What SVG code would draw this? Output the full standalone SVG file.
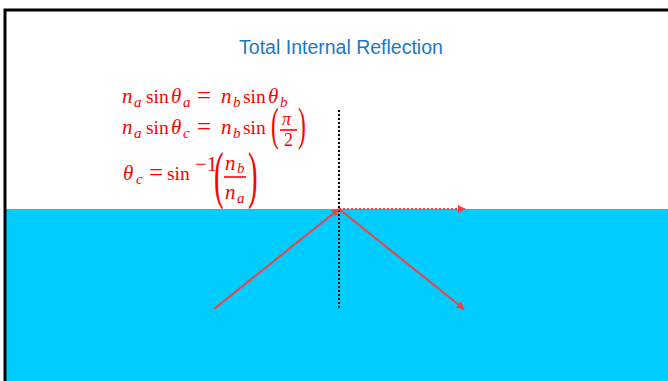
<svg xmlns="http://www.w3.org/2000/svg" width="668" height="381" viewBox="0 0 668 381">
<defs>
<style>
.eq{font-family:"Liberation Serif","DejaVu Serif",serif;fill:#ff0000;font-size:21px}
.it{font-style:italic}
.fn{font-size:19.5px}
.sub{font-size:15px;font-style:italic}
.op{font-size:25px}
.fr{font-size:18px}
.par{font-family:"Liberation Serif","DejaVu Serif",serif;fill:#ff0000}
.ray{stroke:#f44040;stroke-width:2;fill:none}
</style>
<marker id="ah" viewBox="0 0 10 10" refX="9" refY="5" markerWidth="8" markerHeight="8" markerUnits="userSpaceOnUse" orient="auto">
<path d="M0,0 L10,5 L0,10 z" fill="#f44040"/>
</marker>
</defs>
<rect x="0" y="0" width="668" height="381" fill="#ffffff"/>
<g id="water">
<rect x="5" y="209" width="663" height="172" fill="#00ccff"/>
</g>
<g id="frame">
<path d="M5,381 L5,10 L668,10" stroke="#000" stroke-width="3" fill="none"/>
</g>
<g id="title">
<text x="341" y="54" text-anchor="middle" font-family="Liberation Sans, Arial, sans-serif" font-size="19.5" fill="#1a78c8">Total Internal Reflection</text>
</g>
<g id="connectors">
<line x1="339" y1="110" x2="339" y2="308" stroke="#000" stroke-width="2" stroke-dasharray="2 2"/>
<line class="ray" x1="214" y1="309" x2="339" y2="209" marker-end="url(#ah)"/>
<line class="ray" x1="339" y1="209" x2="464" y2="309" marker-end="url(#ah)"/>
<line class="ray" x1="339" y1="209" x2="465" y2="209" stroke-dasharray="2 2" marker-end="url(#ah)"/>
</g>
<g id="equations">
<text class="eq it" x="122" y="103">n</text><text class="eq sub" x="134" y="107">a</text>
<text class="eq fn" x="146" y="103">sin</text>
<text class="eq it" x="171" y="103">θ</text><text class="eq sub" x="183" y="107">a</text>
<text class="eq op" x="197" y="104">=</text>
<text class="eq it" x="221" y="103">n</text><text class="eq sub" x="233" y="107">b</text>
<text class="eq fn" x="243" y="103">sin</text>
<text class="eq it" x="268" y="103">θ</text><text class="eq sub" x="280" y="107">b</text>

<text class="eq it" x="122" y="134">n</text><text class="eq sub" x="134" y="138">a</text>
<text class="eq fn" x="146" y="134">sin</text>
<text class="eq it" x="171" y="134">θ</text><text class="eq sub" x="183" y="138">c</text>
<text class="eq op" x="197" y="135">=</text>
<text class="eq it" x="221" y="134">n</text><text class="eq sub" x="233" y="138">b</text>
<text class="eq fn" x="243" y="134">sin</text>
<text class="par" font-size="47" transform="translate(271,140) scale(0.5,1)">(</text>
<text class="eq it fr" x="282" y="125">π</text>
<line x1="280" y1="130" x2="297" y2="130" stroke="#ff0000" stroke-width="1.6"/>
<text class="eq fr" x="284" y="146">2</text>
<text class="par" font-size="47" transform="translate(298,140) scale(0.5,1)">)</text>

<text class="eq it" x="123" y="180">θ</text><text class="eq sub" x="136" y="184">c</text>
<text class="eq op" x="149" y="181">=</text>
<text class="eq fn" x="167" y="180">sin</text>
<text class="eq" x="195" y="171" font-size="12">−1</text>
<text class="par" font-size="64" transform="translate(214,196) scale(0.45,1)">(</text>
<text class="eq it" x="225" y="170">n</text><text class="eq sub" x="237" y="173">b</text>
<line x1="224" y1="177" x2="246" y2="177" stroke="#ff0000" stroke-width="1.6"/>
<text class="eq it" x="225" y="199">n</text><text class="eq sub" x="237" y="203">a</text>
<text class="par" font-size="64" transform="translate(248,196) scale(0.45,1)">)</text>
</g>
</svg>
